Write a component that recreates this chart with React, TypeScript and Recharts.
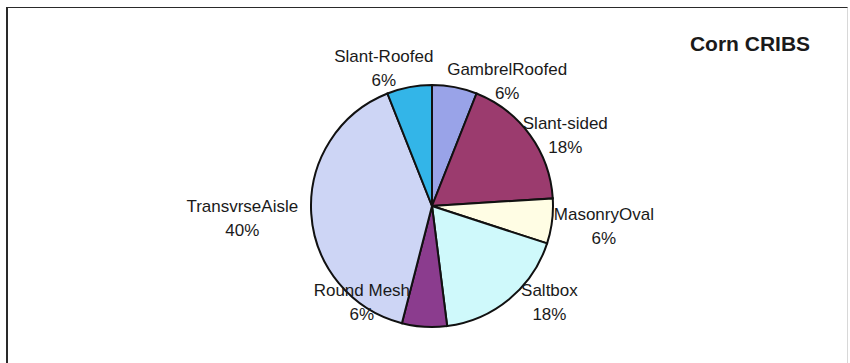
import React from "react";
import { PieChart, Pie, Cell } from "recharts";

// corn crib types, clockwise from 12 o'clock
const categories = [
  "GambrelRoofed",
  "Slant-sided",
  "MasonryOval",
  "Saltbox",
  "Round Mesh",
  "TransvrseAisle",
  "Slant-Roofed",
];
const shares = [6, 18, 6, 18, 6, 40, 6];
const sliceColors = [
  "#99a3e8",
  "#9b3b6e",
  "#fffde4",
  "#cff9fb",
  "#8b3c8e",
  "#cdd5f5",
  "#33b5e8",
];

// excel-style label placement tweaks (px) relative to the default spot
const labelNudge = [
  [48, 17],
  [16, 14],
  [28, 2],
  [25, -16],
  [-61, -49],
  [-45, 3],
  [-21, 4],
];

const data = categories.map((name, i) => ({ name, value: shares[i] }));

const RADIAN = Math.PI / 180;
const FONT = "'Liberation Sans', Arial, Helvetica, sans-serif";

function renderLabel(props: any) {
  const { cx, cy, midAngle, outerRadius, index, name, percent } = props;
  const r = outerRadius + 24;
  const [dx, dy] = labelNudge[index] || [0, 0];
  const x = cx + r * Math.cos(-midAngle * RADIAN) + dx;
  const y = cy + r * Math.sin(-midAngle * RADIAN) + dy;
  return (
    <text
      x={x}
      y={y}
      textAnchor="middle"
      fill="#1a1a1a"
      fontSize={17}
      fontFamily={FONT}
    >
      <tspan x={x} dy={-6}>
        {name}
      </tspan>
      <tspan x={x} dy={24}>
        {`${Math.round(percent * 100)}%`}
      </tspan>
    </text>
  );
}

export default function App() {
  return (
    <div style={{ position: "relative", width: 850, height: 363, overflow: "hidden", background: "#fff" }}>
      <style>{"body{margin:0;}"}</style>
      <div
        style={{
          position: "absolute",
          left: 6,
          top: 7,
          width: 842,
          height: 400,
          borderLeft: "2px solid #2a2a2a",
          borderTop: "1.5px solid #2a2a2a",
          borderRight: "1px solid #d8d8d8",
          boxSizing: "border-box",
        }}
      />
      <div
        style={{
          position: "absolute",
          left: 650,
          top: 32,
          width: 200,
          textAlign: "center",
          fontFamily: FONT,
          fontWeight: "bold",
          fontSize: 21,
          color: "#1a1a1a",
        }}
      >
        Corn CRIBS
      </div>
      <div style={{ position: "absolute", left: 0, top: 0 }}>
        <PieChart width={850} height={363} margin={{ top: 0, right: 0, bottom: 0, left: 0 }}>
          <Pie
            data={data}
            dataKey="value"
            nameKey="name"
            cx={432}
            cy={206}
            outerRadius={121}
            startAngle={90}
            endAngle={-270}
            stroke="#111"
            strokeWidth={2}
            label={renderLabel}
            labelLine={false}
            isAnimationActive={false}
          >
            {data.map((d, i) => (
              <Cell key={d.name} fill={sliceColors[i]} />
            ))}
          </Pie>
        </PieChart>
      </div>
    </div>
  );
}
